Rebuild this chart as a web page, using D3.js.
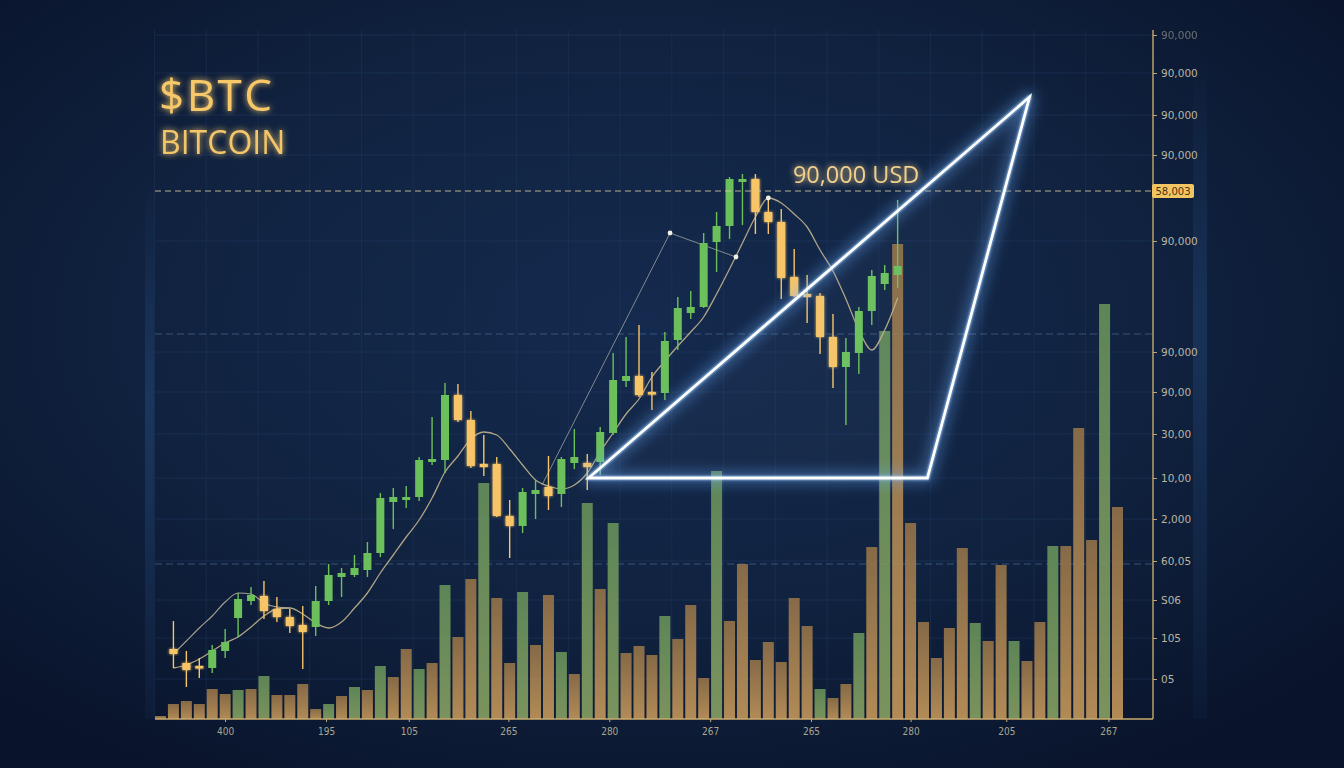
<!DOCTYPE html>
<html><head><meta charset="utf-8">
<script src="https://cdn.jsdelivr.net/npm/d3@7"></script>
<style>html,body{margin:0;padding:0;background:#0c1830;overflow:hidden}</style>
</head><body><svg id="c" width="1344" height="768"></svg>
<script>
// ---------------- DATA ----------------
const volume = [3,15,18,15,30,25,29,30,43,24, 24,35,10,15,23,32,29,53,42,70,
  50,56,134,82,140,236,121,56,127,74, 124,67,45,216,130,196,66,73,64,103,
  80,114,41,248,98,155,59,77,57,121, 93,30,21,35,86,172,388,475,196,97,
  61,91,171,96,78,154,78,58,97,173, 173,291,179,415,212];
const volumeUp = [0,0,0,0,0,0,1,0,1,0, 0,0,0,1,0,1,0,1,0,0, 1,0,1,0,0,1,0,0,1,0,
  0,1,0,1,0,1,0,0,0,1, 0,0,0,1,0,0,0,0,0,0, 0,1,0,0,1,0,1,0,0,0,
  0,0,0,1,0,0,1,0,0,1, 0,0,0,1,0];
// candles start at index 1: [open, high, low, close]
const candleStart = 1;
const candles = [
 [44200,47000,42300,43700],[42800,44000,40400,42100],[42500,43300,41300,42300],[42300,44600,41800,44100],
 [44000,46200,43300,44900],[47300,49800,45400,49200],[49000,50400,48600,49600],[49500,51000,47200,48000],
 [48200,49400,46900,47400],[47400,48200,45800,46500],[46600,48500,42200,45900],[46400,50500,45500,49000],
 [49000,52700,48600,51600],[51400,52300,49400,51800],[51600,53600,51400,52300],[52100,54900,51400,53800],
 [53800,59800,53400,59300],[58900,60300,56200,59400],[59100,60500,58300,59400],[59400,63400,59000,63100],
 [62900,67400,62600,63200],[63100,70800,61800,69600],[69600,70700,66900,67100],[67100,68000,62300,62500],
 [62700,65600,61500,62400],[62700,63400,57400,57500],[57500,59100,53300,56500],[56500,60300,55800,59900],
 [59700,61100,57200,60100],[60400,63500,58100,59500],[59700,63400,58400,63200],[62800,66200,62200,63400],
 [62800,63700,60100,62400],[62900,66400,61600,65900],[65800,73800,65600,71100],[71000,75400,70400,71500],
 [71500,76600,69400,69600],[69900,71900,68100,69700],[69800,75900,69100,75000],[75100,79400,74100,78300],
 [77800,80000,77200,78400],[78400,85800,78300,84800],[84900,87900,81900,86500],[86500,91400,85200,91200],
 [90900,91700,86600,91200],[91200,91700,85700,87900],[87900,89200,85700,86900],[86900,88200,79200,81300],
 [81400,84200,79400,79500],[79700,81600,76800,79400],[79500,79800,73700,75400],[75400,77700,70300,72400],
 [72400,75300,66600,73900],[73800,78400,71700,78000],[78000,82100,76600,81500],[80700,82600,80100,81800],
 [81600,89100,80300,82500]];
const movingAvg = [42300,42600,43200,44000,44800,45400,46400,47500,48200,48300,47700,46800,46300,46900,
  48300,49800,51800,53600,55400,57100,59300,61900,63500,65200,65900,65600,64200,62600,61100,60500,
  60200,60600,61800,63900,65800,67700,69200,71400,73000,74500,75900,77400,79700,82200,84800,87400,
  89300,88800,87700,86400,84100,82000,79200,76100,74100,76100,79300];
const upperLine = [43700,45000,46300,47500,48900,49800,49700,48800,48400,48300];
const swingLine = [[29.5,60600],[39.4,85800],[44.5,83400]];
const maPeakIndex = 47;
const triangle = [[33.1,61300],[59.3,61300],[67.2,99400]];
const targetPrice = 90000;
const targetLabel = "90,000 USD";
const priceTag = "58,003";
const refLevels = [75700, 52700];
const yTickValues = [105600,101800,97600,93600,85000,73900,69900,65700,61300,57200,53000,49100,45300,41200];
const yTickLabels = ["90,000","90,000","90,000","90,000","90,000","90,000","90,00","30,00","10,00","2,000","60,05","S06","105","05"];
const xTickValues = [4.99,12.8,19.2,26.9,34.7,42.5,50.3,58.0,65.4,73.3];
const xTickLabels = ["400","195","105","265","280","267","265","280","205","267"];
const title = "$BTC", subtitle = "BITCOIN";

// ---------------- CHART ----------------
const W = 1344, H = 768;
const svg = d3.select('#c');
const defs = svg.append('defs');

const rg = defs.append('radialGradient').attr('id','bg').attr('cx','48%').attr('cy','42%').attr('r','70%');
rg.append('stop').attr('offset','0%').attr('stop-color','#142a4e');
rg.append('stop').attr('offset','55%').attr('stop-color','#10223f');
rg.append('stop').attr('offset','100%').attr('stop-color','#09132a');
svg.append('rect').attr('width',W).attr('height',H).attr('fill','url(#bg)');

function vgrad(id, top, bottom, op){
  const g = defs.append('linearGradient').attr('id',id).attr('x1',0).attr('y1',0).attr('x2',0).attr('y2',1);
  g.append('stop').attr('offset','0%').attr('stop-color',top).attr('stop-opacity',op);
  g.append('stop').attr('offset','100%').attr('stop-color',bottom).attr('stop-opacity',op);
}
vgrad('volO','#937248','#c4975a',0.9);
vgrad('volG','#66905a','#87a061',0.9);
const sg = defs.append('linearGradient').attr('id','stripG').attr('x1',0).attr('y1',0).attr('x2',0).attr('y2',1);
sg.append('stop').attr('offset','0%').attr('stop-color','#244a7c').attr('stop-opacity',0);
sg.append('stop').attr('offset','40%').attr('stop-color','#244a7c').attr('stop-opacity',0.5);
sg.append('stop').attr('offset','100%').attr('stop-color','#244a7c').attr('stop-opacity',0.1);

function glowFilter(id, sd){
  const f = defs.append('filter').attr('id',id).attr('x','-30%').attr('y','-30%').attr('width','160%').attr('height','160%');
  f.append('feGaussianBlur').attr('in','SourceGraphic').attr('stdDeviation',sd).attr('result','b');
  const m = f.append('feMerge');
  m.append('feMergeNode').attr('in','b');
  m.append('feMergeNode').attr('in','SourceGraphic');
}
glowFilter('glowText',3);
glowFilter('glowCandle',1.6);
const blur = defs.append('filter').attr('id','blurWide').attr('x','-20%').attr('y','-20%').attr('width','140%').attr('height','140%');
blur.append('feGaussianBlur').attr('stdDeviation',7);

const x = d3.scaleLinear().domain([0,74]).range([160.5,1117.5]);
const y = d3.scaleLinear().domain([37300,109100]).range([718,0]);
const yv = d3.scaleLinear().domain([0,500]).range([719,219]);
const left = 155, right = 1153, base = 719;

// decorative strips
svg.append('rect').attr('x',145).attr('y',y(91000)).attr('width',9).attr('height',base-y(91000)).attr('fill','url(#stripG)');
svg.append('rect').attr('x',1193).attr('y',y(104000)).attr('width',14).attr('height',base-y(104000)).attr('fill','url(#stripG)').attr('opacity',0.8);

// grid
const grid = svg.append('g');
grid.selectAll('line.h').data(yTickValues).join('line')
  .attr('x1',left).attr('x2',right).attr('y1',d=>y(d)).attr('y2',d=>y(d))
  .attr('stroke','#2a4670').attr('stroke-width',0.7).attr('opacity',0.5);
grid.selectAll('line.v').data(d3.range(0,76,4)).join('line')
  .attr('x1',d=>x(d)-6).attr('x2',d=>x(d)-6).attr('y1',y(106100)).attr('y2',base)
  .attr('stroke','#2a4670').attr('stroke-width',0.7).attr('opacity',0.4);
grid.selectAll('line.r').data(refLevels).join('line')
  .attr('x1',left).attr('x2',right).attr('y1',d=>y(d)).attr('y2',d=>y(d))
  .attr('stroke','#4a6890').attr('stroke-width',1).attr('stroke-dasharray','7,4').attr('opacity',0.7);

// volume bars
const bw = 11;
svg.append('g').selectAll('rect').data(volume).join('rect')
  .attr('x',(d,i)=>x(i)-bw/2).attr('width',bw)
  .attr('y',d=>yv(d)).attr('height',d=>base-yv(d))
  .attr('fill',(d,i)=>volumeUp[i]?'url(#volG)':'url(#volO)');

// lines
const lineGen = d3.line().x(d=>x(d[0])).y(d=>y(d[1])).curve(d3.curveMonotoneX);
svg.append('path').datum(upperLine.map((v,i)=>[i+candleStart,v]))
  .attr('d',lineGen).attr('fill','none').attr('stroke','#c9c2ab').attr('stroke-width',1.1).attr('opacity',0.8);
svg.append('path').datum(swingLine)
  .attr('d',d3.line().x(d=>x(d[0])).y(d=>y(d[1]))).attr('fill','none')
  .attr('stroke','#b9b9b0').attr('stroke-width',0.9).attr('opacity',0.75);
svg.append('path').datum(movingAvg.map((v,i)=>[i+candleStart,v]))
  .attr('d',lineGen).attr('fill','none').attr('stroke','#c2b28c').attr('stroke-width',1.3).attr('opacity',0.9);

// candles
const cg = svg.append('g');
const cw = 8;
const cd = candles.map((c,i)=>({i:i+candleStart,o:c[0],h:c[1],l:c[2],c:c[3],up:c[3]>=c[0]}));
const gC = '#6cc05b', oC = '#f7c567';
cg.selectAll('line').data(cd).join('line')
  .attr('x1',d=>x(d.i)).attr('x2',d=>x(d.i)).attr('y1',d=>y(d.h)).attr('y2',d=>y(d.l))
  .attr('stroke',d=>d.up?gC:oC).attr('stroke-width',1.4);
cg.selectAll('rect').data(cd).join('rect')
  .attr('x',d=>x(d.i)-cw/2).attr('width',cw)
  .attr('y',d=>y(Math.max(d.o,d.c))).attr('height',d=>Math.max(2.5,Math.abs(y(d.o)-y(d.c))))
  .attr('fill',d=>d.up?gC:oC).attr('filter',d=>d.up?null:'url(#glowCandle)');

// dots
const dots = [swingLine[1], swingLine[2], [maPeakIndex, movingAvg[maPeakIndex-candleStart]]];
svg.append('g').selectAll('circle').data(dots).join('circle')
  .attr('cx',d=>x(d[0])).attr('cy',d=>y(d[1])).attr('r',2.4).attr('fill','#f4f2e6');

// target dashed line
svg.append('line').attr('x1',left).attr('x2',right).attr('y1',y(targetPrice)).attr('y2',y(targetPrice))
  .attr('stroke','#d9c79c').attr('stroke-width',1.2).attr('stroke-dasharray','6,4').attr('opacity',0.85);

// triangle
const triPts = triangle.map(d=>[x(d[0]),y(d[1])]);
const triPath = 'M'+triPts.map(p=>p.join(',')).join('L')+'Z';
svg.append('path').attr('d',triPath).attr('fill','#cfe4ff').attr('fill-opacity',0.03);
svg.append('path').attr('d',triPath).attr('fill','none').attr('stroke','#6fb0ff').attr('stroke-width',12)
  .attr('stroke-linejoin','round').attr('opacity',0.4).attr('filter','url(#blurWide)');
svg.append('path').attr('d',triPath).attr('fill','none').attr('stroke','#9fd0ff').attr('stroke-width',5)
  .attr('stroke-linejoin','round').attr('opacity',0.45).attr('filter','url(#glowCandle)');
svg.append('path').attr('d',triPath).attr('fill','none').attr('stroke','#ffffff').attr('stroke-width',2.8)
  .attr('stroke-linejoin','miter');

// target text
svg.append('text').attr('x',x(48.9)).attr('y',y(targetPrice)-8).text(targetLabel)
  .attr('font-family','Open Sans, Noto Sans, sans-serif').attr('font-size',23.5)
  .attr('fill','#f0d08c').attr('filter','url(#glowText)');

// titles
svg.append('text').attr('x',159).attr('y',111).text(title)
  .attr('font-family','Open Sans, Noto Sans, sans-serif').attr('font-size',44).attr('letter-spacing',2.5)
  .attr('fill','#f6c86a').attr('filter','url(#glowText)');
svg.append('text').attr('x',160).attr('y',154).text(subtitle)
  .attr('font-family','Open Sans, Noto Sans, sans-serif').attr('font-size',32)
  .attr('fill','#f3c66a').attr('filter','url(#glowText)');

// right axis
const ra = svg.append('g').attr('transform',`translate(${right},0)`)
  .call(d3.axisRight(y).tickValues(yTickValues).tickFormat((d,i)=>yTickLabels[i]).tickSize(4).tickPadding(4));
ra.select('.domain').remove();
ra.selectAll('line').attr('stroke','#bfa56c');
ra.selectAll('text').attr('fill','#b9b5a4').attr('font-family','DejaVu Sans, sans-serif').attr('font-size',10.5)
  .attr('opacity',(d,i)=>i===0?0.55:1);
svg.append('line').attr('x1',right).attr('x2',right).attr('y1',y(106100)).attr('y2',base)
  .attr('stroke','#c7a96c').attr('stroke-width',1.4);
// price tag
const tagY = y(targetPrice);
svg.append('rect').attr('x',right-1).attr('y',tagY-7).attr('width',42).attr('height',14).attr('rx',2)
  .attr('fill','#f2c462');
svg.append('text').attr('x',right+20).attr('y',tagY+3.5).attr('text-anchor','middle').text(priceTag)
  .attr('font-family','DejaVu Sans, sans-serif').attr('font-size',10).attr('fill','#4a3410');

// bottom axis
svg.append('line').attr('x1',left).attr('x2',right).attr('y1',base).attr('y2',base)
  .attr('stroke','#c9aa6e').attr('stroke-width',1.6);
const ba = svg.append('g').attr('transform',`translate(0,${base})`)
  .call(d3.axisBottom(x).tickValues(xTickValues).tickFormat((d,i)=>xTickLabels[i]).tickSize(3).tickPadding(6));
ba.select('.domain').remove();
ba.selectAll('line').attr('stroke','#c9aa6e');
ba.selectAll('text').attr('fill','#a8a690').attr('font-family','DejaVu Sans Condensed, DejaVu Sans, sans-serif').attr('font-size',10);
</script></body></html>
